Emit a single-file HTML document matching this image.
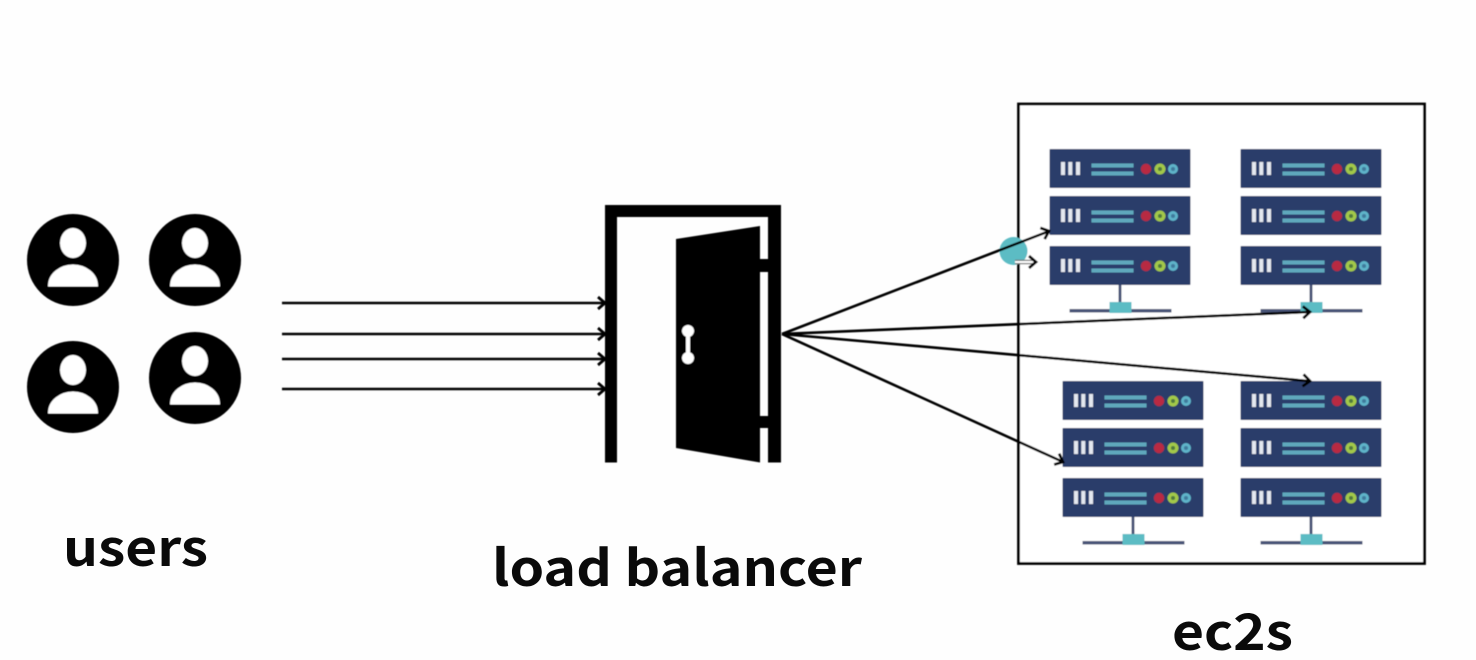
<!DOCTYPE html>
<html><head><meta charset="utf-8"><style>
html,body{margin:0;padding:0;background:#fefefe}
svg{display:block}
text{font-family:"Noto Sans CJK JP","Liberation Sans",sans-serif;font-weight:700;fill:#0a0a0a}
</style></head><body>
<svg width="1476" height="660" viewBox="0 0 1476 660" xmlns="http://www.w3.org/2000/svg">
<defs>
<filter id="b" x="0" y="0" width="1476" height="660" filterUnits="userSpaceOnUse"><feGaussianBlur stdDeviation="0.6"/></filter>
<g id="row">
<rect x="0" y="0" width="141" height="39" rx="1" fill="#2b3d6b"/>
<rect x="11.500" y="13" width="4" height="13" fill="#e4e8ef"/><rect x="18.800" y="13" width="4" height="13" fill="#e4e8ef"/><rect x="26.500" y="13" width="4" height="13" fill="#e4e8ef"/>
<rect x="42" y="14.500" width="42" height="4" fill="#5fa8bc"/><rect x="42" y="22.500" width="42" height="4" fill="#5fa8bc"/>
<circle cx="96.500" cy="20" r="5.200" fill="#b82a42"/>
<circle cx="110.500" cy="20" r="5.500" fill="#a2c84a"/><circle cx="110.500" cy="20" r="2" fill="#4f7a3c"/>
<circle cx="123.500" cy="20" r="5" fill="#5fb4c9"/><circle cx="123.500" cy="20" r="2" fill="#3f7a9c"/>
</g>
<g id="rack">
<use href="#row" x="0" y="0"/><use href="#row" x="0" y="47"/><use href="#row" x="0" y="97"/>
<rect x="69" y="136" width="3" height="24" fill="#4a5478"/>
<rect x="20" y="160" width="102" height="3.500" fill="#4a5478"/>
<rect x="60" y="153" width="22" height="11" fill="#5cbcc4"/>
</g>
<g id="user">
<circle cx="0" cy="0" r="46" fill="#000"/>
<ellipse cx="0" cy="-17" rx="13" ry="15" fill="#fff"/>
<path d="M-24.500 26 C-24.500 13 -12 5 0 5 C12 5 24.500 13 24.500 26 Z" fill="#fff" stroke="#fff" stroke-linejoin="round"/>
</g>
<path id="ah" d="M-7 -6 L0 0 L-7 6" fill="none" stroke="#000" stroke-width="2.800"/>
</defs>

<g filter="url(#b)">
<rect x="1018.500" y="104" width="406" height="459.500" fill="#fff" stroke="#000" stroke-width="2.800"/>

<use href="#rack" x="1049.500" y="149"/>
<use href="#rack" x="1240.500" y="149"/>
<use href="#rack" x="1062.500" y="381"/>
<use href="#rack" x="1240.500" y="381"/>

<use href="#user" x="73" y="260"/>
<use href="#user" x="195" y="260"/>
<use href="#user" x="73" y="387"/>
<use href="#user" x="195" y="378"/>

<path fill="#000" fill-rule="evenodd" d="M605 205 H781 V462.500 H768 V217 H617 V462.500 H605 Z"/>
<path fill="#000" d="M676 239 L760 226 V462.500 L676 448 Z"/>
<rect x="759" y="259" width="10" height="13" fill="#000"/>
<rect x="759" y="416" width="10" height="12" fill="#000"/>
<circle cx="688" cy="331" r="6" fill="#fff"/><circle cx="688" cy="358" r="6" fill="#fff"/>
<rect x="686" y="331" width="4" height="27" fill="#fff"/>

<circle cx="1013.500" cy="251" r="14" fill="#5cbcc4"/>

<g stroke="#000" stroke-width="2.600" fill="none">
<line x1="282" y1="303" x2="603" y2="303"/>
<line x1="282" y1="334" x2="603" y2="334"/>
<line x1="282" y1="359" x2="603" y2="359"/>
<line x1="282" y1="389" x2="603" y2="389"/>
<line x1="782" y1="334" x2="1047" y2="232"/>
<line x1="782" y1="334" x2="1308" y2="312"/>
<line x1="782" y1="334" x2="1308" y2="381"/>
<line x1="782" y1="334" x2="1061" y2="461"/>
</g>
<line x1="1015" y1="262" x2="1034" y2="262" stroke="#777" stroke-width="4.500"/>
<line x1="1015" y1="262" x2="1034" y2="262" stroke="#fff" stroke-width="2"/>
<use href="#ah" transform="translate(605,303)"/>
<use href="#ah" transform="translate(605,334)"/>
<use href="#ah" transform="translate(605,359)"/>
<use href="#ah" transform="translate(605,389)"/>
<use href="#ah" transform="translate(1049,231) rotate(-21)"/>
<use href="#ah" transform="translate(1310,312) rotate(-2.400)"/>
<use href="#ah" transform="translate(1310,381) rotate(5.100)"/>
<use href="#ah" transform="translate(1063,462) rotate(24.500)"/>
<use href="#ah" transform="translate(1036,262)"/>
</g>

<text x="63" y="566" font-size="50" textLength="145" lengthAdjust="spacingAndGlyphs">users</text>
<text x="492" y="586" font-size="50" textLength="370" lengthAdjust="spacingAndGlyphs">load balancer</text>
<text x="1172" y="650" font-size="50" textLength="121" lengthAdjust="spacingAndGlyphs">ec2s</text>
</svg>
</body></html>
